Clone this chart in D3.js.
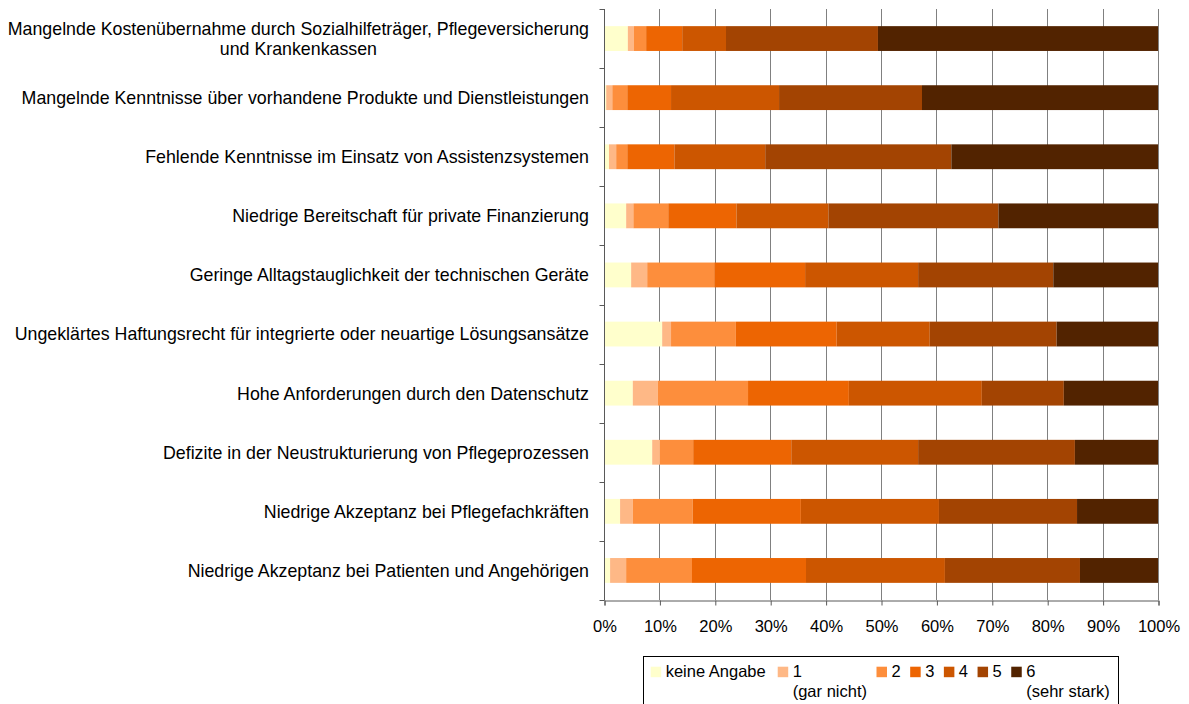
<!DOCTYPE html>
<html>
<head>
<meta charset="utf-8">
<script src="https://cdn.jsdelivr.net/npm/d3@7"></script>
<style>
  html, body { margin: 0; padding: 0; background: #fff; }
  svg text { font-family: "Liberation Sans", Arial, Helvetica, sans-serif; fill: #000; }
</style>
</head>
<body>
<svg id="chart" width="1189" height="704"></svg>
<script>
// ---------- DATA ----------
const categories = [
  "Mangelnde Kostenübernahme durch Sozialhilfeträger, Pflegeversicherung\nund Krankenkassen",
  "Mangelnde Kenntnisse über vorhandene Produkte und Dienstleistungen",
  "Fehlende Kenntnisse im Einsatz von Assistenzsystemen",
  "Niedrige Bereitschaft für private Finanzierung",
  "Geringe Alltagstauglichkeit der technischen Geräte",
  "Ungeklärtes Haftungsrecht für integrierte oder neuartige Lösungsansätze",
  "Hohe Anforderungen durch den Datenschutz",
  "Defizite in der Neustrukturierung von Pflegeprozessen",
  "Niedrige Akzeptanz bei Pflegefachkräften",
  "Niedrige Akzeptanz bei Patienten und Angehörigen"
];
const seriesNames = ["keine Angabe", "1", "2", "3", "4", "5", "6"];
const seriesSubLabels = ["", "(gar nicht)", "", "", "", "", "(sehr stark)"];
const keineAngabe = [4.3, 0.4, 0.9, 4.0, 4.9, 10.5, 5.2, 8.7, 2.9, 1.1];
const stufe1 = [1.1, 1.1, 1.3, 1.3, 2.9, 1.6, 4.5, 1.4, 2.3, 2.9];
const stufe2 = [2.2, 2.7, 2.0, 6.3, 12.1, 11.7, 16.3, 6.0, 10.8, 11.9];
const stufe3 = [6.5, 7.9, 8.5, 12.3, 16.4, 18.2, 18.2, 17.7, 19.5, 20.6];
const stufe4 = [7.9, 19.5, 16.4, 16.6, 20.4, 16.8, 24.0, 22.9, 24.9, 25.1];
const stufe5 = [27.4, 25.8, 33.6, 30.7, 24.4, 22.9, 14.8, 28.3, 24.9, 24.4];
const stufe6 = [50.5, 42.6, 37.3, 28.8, 18.9, 18.3, 17.0, 15.0, 14.6, 14.1];
const tickValues = [0, 10, 20, 30, 40, 50, 60, 70, 80, 90, 100];

// ---------- STYLE ----------
const colors = ["#FFFFCC", "#FEB886", "#FD8E3C", "#ED6502", "#CC5600", "#A34402", "#522300"];
const labelFont = 17.8, smallFont = 16.5;

// ---------- BUILD ----------
const seriesArrays = [keineAngabe, stufe1, stufe2, stufe3, stufe4, stufe5, stufe6];
const rows = categories.map((c, i) => {
  const r = { cat: c };
  seriesNames.forEach((s, j) => r[s] = seriesArrays[j][i]);
  return r;
});
const stacked = d3.stack().keys(seriesNames).offset(d3.stackOffsetExpand)(rows);

const svg = d3.select("#chart");
const x = d3.scaleLinear().domain([0, 1]).range([604, 1158]);
const y = d3.scaleBand().domain(categories).range([9, 600]).padding(0);
const color = d3.scaleOrdinal().domain(seriesNames).range(colors);
const barFrac = 0.42;

// gridlines
svg.append("g").selectAll("line").data(tickValues.slice(1)).join("line")
  .attr("x1", d => Math.round(x(d / 100)) + 0.5).attr("x2", d => Math.round(x(d / 100)) + 0.5)
  .attr("y1", y.range()[0]).attr("y2", y.range()[1])
  .attr("stroke", "#808080").attr("stroke-width", 1);

// bars
svg.append("g").selectAll("g").data(stacked).join("g")
  .attr("fill", d => color(d.key))
  .selectAll("rect").data(d => d).join("rect")
  .attr("x", d => x(d[0]))
  .attr("width", d => Math.max(0, x(d[1]) - x(d[0])))
  .attr("y", d => y(d.data.cat) + y.bandwidth() * (1 - barFrac) / 2)
  .attr("height", y.bandwidth() * barFrac);

// x axis
const xAxis = d3.axisBottom(x)
  .tickValues(tickValues.map(v => v / 100))
  .tickFormat(d3.format(".0%"))
  .tickSize(5).tickPadding(15);
const gx = svg.append("g").attr("transform", `translate(0.5,${y.range()[1] + 0.5})`).call(xAxis);
gx.select(".domain").attr("stroke", "#595959");
gx.selectAll(".tick line").attr("stroke", "#595959");
gx.selectAll(".tick text").attr("font-size", smallFont).attr("font-family", "Liberation Sans, Arial, sans-serif").attr("fill", "#000");

// y axis (ticks at band boundaries)
const gy = svg.append("g");
gy.append("line").attr("x1", x(0) + 0.5).attr("x2", x(0) + 0.5)
  .attr("y1", y.range()[0]).attr("y2", y.range()[1] + 0.5).attr("stroke", "#595959");
const bounds = categories.map(c => y(c)).concat([y.range()[1]]);
gy.selectAll("line.t").data(bounds).join("line").attr("class", "t")
  .attr("x1", x(0) - 4.5).attr("x2", x(0) + 0.5)
  .attr("y1", d => Math.round(d) + 0.5).attr("y2", d => Math.round(d) + 0.5)
  .attr("stroke", "#595959");

// category labels
const labelRight = 589;
const lineH = 20.5;
categories.forEach(c => {
  const lines = c.split("\n");
  const cy = y(c) + y.bandwidth() / 2;
  const g = svg.append("g");
  const texts = lines.map((ln, k) => g.append("text")
    .attr("font-size", labelFont)
    .attr("y", cy + (k - (lines.length - 1) / 2) * lineH)
    .attr("dy", "0.36em")
    .text(ln));
  const widths = texts.map(t => t.node().getComputedTextLength());
  const maxW = d3.max(widths);
  texts.forEach(t => t.attr("text-anchor", "middle").attr("x", labelRight - maxW / 2));
});

// legend
const legend = svg.append("g");
legend.append("rect").attr("x", 643.5).attr("y", 656.5).attr("width", 475).attr("height", 60)
  .attr("fill", "#fff").attr("stroke", "#000").attr("stroke-width", 1);
let lx = 650.7;
seriesNames.forEach((s, i) => {
  legend.append("rect").attr("x", lx).attr("y", 666.7).attr("width", 10.5).attr("height", 10.5)
    .attr("fill", color(s));
  const tx = lx + 15;
  const t1 = legend.append("text").attr("x", tx).attr("y", 677).attr("font-size", smallFont).text(s);
  let w = t1.node().getComputedTextLength();
  if (seriesSubLabels[i]) {
    const t2 = legend.append("text").attr("x", tx).attr("y", 697).attr("font-size", smallFont).text(seriesSubLabels[i]);
    w = Math.max(w, t2.node().getComputedTextLength());
  }
  lx = tx + w + (i === 0 ? 12 : 9.5);
});
</script>
</body>
</html>
